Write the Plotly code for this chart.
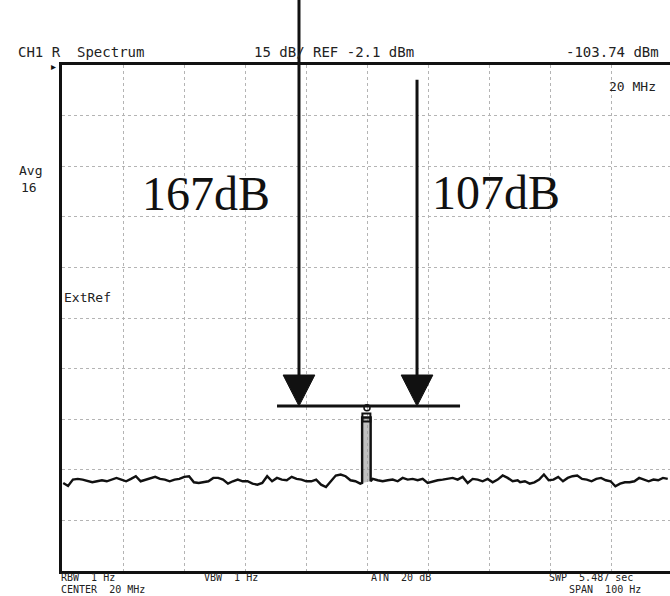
import numpy as np
import plotly.graph_objects as go

# ---- data ----
ref_level_dbm = -2.1
db_per_div = 15
span_hz = 100

seg1_dbm = [-126.0, -126.9, -125.0, -124.8, -125.0, -125.5, -125.8, -125.5, -125.2, -125.5,
            -125.0, -124.5, -125.0, -125.5, -124.8, -124.0, -125.5, -125.0, -124.5, -124.2,
            -124.8, -125.0, -125.5, -125.0, -124.8, -124.2, -124.0, -125.8, -126.0, -125.8,
            -125.5, -124.5]
seg2_dbm = [-124.5, -125.0, -126.2, -125.5, -125.0, -125.5, -125.5, -126.2, -126.5, -126.0,
            -124.0, -125.5, -124.5, -125.0, -125.2, -124.2, -124.8, -125.0, -125.5, -125.5,
            -125.0, -126.5, -127.2, -125.5, -123.8, -123.5, -124.0, -125.2, -125.5, -126.2]
peak_hz = [-0.8, -0.8, 0.6, 0.6]
peak_dbm = [-126.0, -106.6, -106.6, -125.5]
seg3_dbm = [-124.8, -125.2, -125.5, -125.2, -125.0, -125.5, -124.5, -125.0, -124.8, -125.2,
            -124.8, -126.0, -125.5, -125.2, -125.0, -124.8, -124.5, -125.0, -124.2, -126.0,
            -124.8, -125.0, -125.5, -124.8, -125.8, -125.0, -123.8, -124.5, -125.5, -125.2]
seg4_dbm = [-125.8, -125.5, -126.2, -125.8, -125.0, -123.5, -125.2, -125.0, -124.2, -125.5,
            -124.5, -124.0, -123.8, -124.8, -125.0, -125.5, -124.8, -124.5, -125.2, -125.5,
            -127.0, -126.2, -125.8, -125.8, -125.5, -124.5, -125.0, -125.5, -125.0, -125.2,
            -124.5, -124.8]

seg1_hz = np.linspace(-49.8, -25.2, len(seg1_dbm))
seg2_hz = np.linspace(-24.4, -1.1, len(seg2_dbm))
seg3_hz = np.linspace(0.93, 24.7, len(seg3_dbm))
seg4_hz = np.linspace(25.1, 49.3, len(seg4_dbm))

freq_hz = list(seg1_hz) + list(seg2_hz) + peak_hz + list(seg3_hz) + list(seg4_hz)
level_dbm = seg1_dbm + seg2_dbm + peak_dbm + seg3_dbm + seg4_dbm

marker_dbm = -103.74
bar_dbm = -103.2
bar_hz = [-14.75, 15.25]
arrow_hz = [-11.15, 8.2]
arrow_top_dbm = [None, -6.5]
arrow_head_top_dbm = -94.0
arrow_head_half_hz = 2.6

big_labels = ["167dB", "107dB"]

# ---- layout geometry ----
W, H = 670, 596
L, R, T, B = 62, 0, 65, 25
PW, PH = W - L - R, H - T - B


def px(x):
    return (x - L) / PW


def py(y):
    return (H - B - y) / PH


y_bottom = ref_level_dbm - 10 * db_per_div

fig = go.Figure()
# grey fill inside the narrow carrier peak
fig.add_trace(go.Scatter(x=peak_hz, y=peak_dbm, mode="lines", fill="toself",
                         fillcolor="rgba(150,150,150,0.6)", line=dict(width=0),
                         hoverinfo="skip"))
fig.add_trace(go.Scatter(x=freq_hz, y=level_dbm, mode="lines",
                         line=dict(color="#111111", width=2.4), hoverinfo="skip"))
fig.add_trace(go.Scatter(x=[-0.1], y=[peak_dbm[1]], mode="markers",
                         marker=dict(symbol="square-open", size=8, color="#111111",
                                     line=dict(width=2, color="#111111")), hoverinfo="skip"))
fig.add_trace(go.Scatter(x=[0], y=[marker_dbm], mode="markers",
                         marker=dict(symbol="circle-open", size=6, color="#111111",
                                     line=dict(width=1.5, color="#111111")), hoverinfo="skip"))

shapes = []
# horizontal bar
shapes.append(dict(type="line", xref="x", yref="y", x0=bar_hz[0], x1=bar_hz[1],
                   y0=bar_dbm, y1=bar_dbm, line=dict(color="#111111", width=3)))
# arrows
for i, xh in enumerate(arrow_hz):
    if arrow_top_dbm[i] is None:
        shapes.append(dict(type="line", xref="x", yref="paper", x0=xh, x1=xh,
                           y0=py(0), y1=py(380), line=dict(color="#111111", width=3)))
    else:
        shapes.append(dict(type="line", xref="x", yref="y", x0=xh, x1=xh,
                           y0=arrow_top_dbm[i], y1=arrow_head_top_dbm - 1,
                           line=dict(color="#111111", width=3)))
    path = "M {} {} L {} {} L {} {} Z".format(
        xh - arrow_head_half_hz, arrow_head_top_dbm,
        xh + arrow_head_half_hz, arrow_head_top_dbm,
        xh, bar_dbm)
    shapes.append(dict(type="path", xref="x", yref="y", path=path,
                       fillcolor="#111111", line=dict(color="#111111", width=1)))

mono_top = dict(family="DejaVu Sans Mono", size=14, color="#222222")
mono = dict(family="DejaVu Sans Mono", size=13, color="#222222")
mono_bot = dict(family="DejaVu Sans Mono", size=10, color="#222222")
ann = []


def txt(s, x, y, font=mono, xanchor="left"):
    ann.append(dict(text=s, x=px(x), y=py(y), xref="paper", yref="paper",
                    xanchor=xanchor, yanchor="middle", showarrow=False, font=font,
                    borderpad=0))


txt("CH1 R  Spectrum", 17, 52, mono_top)
txt("15 dB/ REF -2.1 dBm", 253, 52, mono_top)
txt("-103.74 dBm", 565, 52, mono_top)
txt("20 MHz", 608, 87, mono)
txt("Avg", 18, 170, mono)
txt("16", 20, 187, mono)
txt("ExtRef", 63, 297, mono)
txt("RBW  1 Hz", 60, 577, mono_bot)
txt("VBW  1 Hz", 203, 577, mono_bot)
txt("ATN  20 dB", 370, 577, mono_bot)
txt("SWP  5.487 sec", 548, 577, mono_bot)
txt("CENTER  20 MHz", 60, 589, mono_bot)
txt("SPAN  100 Hz", 568, 589, mono_bot)
txt("\u25b8", 50, 67, font=dict(family="DejaVu Sans", size=10, color="#111111"))

serif = dict(family="Liberation Serif", size=48, color="#111111")
txt(big_labels[0], 206, 193, font=serif, xanchor="center")
txt(big_labels[1], 496, 192, font=serif, xanchor="center")

fig.update_layout(
    width=W, height=H,
    margin=dict(l=L, r=R, t=T, b=B, pad=0),
    paper_bgcolor="white", plot_bgcolor="white",
    showlegend=False,
    shapes=shapes, annotations=ann,
    xaxis=dict(range=[-span_hz / 2, -span_hz / 2 + span_hz * PW / 610],
               showgrid=True, gridcolor="#b4b4b4", griddash="dot", gridwidth=1,
               tick0=-span_hz / 2, dtick=span_hz / 10, showticklabels=False, ticks="",
               zeroline=False, showline=True, linecolor="#111111", linewidth=3, mirror=True),
    yaxis=dict(range=[y_bottom, ref_level_dbm],
               showgrid=True, gridcolor="#b4b4b4", griddash="dot", gridwidth=1,
               tick0=ref_level_dbm, dtick=db_per_div, showticklabels=False, ticks="",
               zeroline=False, showline=True, linecolor="#111111", linewidth=3),
)

fig.write_html("out.html")
